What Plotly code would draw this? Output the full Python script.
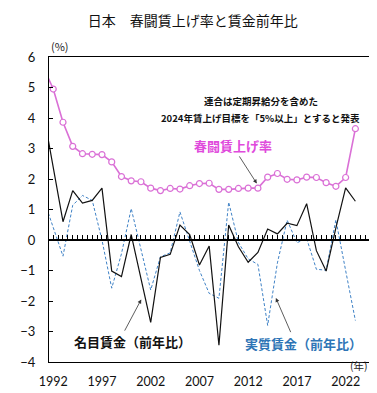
import plotly.graph_objects as go

years = list(range(1991, 2024))
shunto = [5.66, 4.95, 3.86, 3.07, 2.83, 2.81, 2.80, 2.56, 2.08, 1.94, 1.91, 1.70, 1.62, 1.69,
          1.67, 1.78, 1.85, 1.86, 1.66, 1.66, 1.69, 1.70, 1.70, 2.06, 2.18, 1.99, 1.97, 2.06,
          2.05, 1.88, 1.76, 2.05, 3.65]
nominal = [4.16, 2.39, 0.60, 1.62, 1.21, 1.30, 1.70, -1.02, -1.20, 0.18, -1.25, -2.70, -0.57,
           -0.47, 0.49, 0.18, -0.82, -0.20, -3.45, 0.49, -0.22, -0.73, -0.41, 0.36, 0.20, 0.55,
           0.47, 1.19, -0.35, -1.02, 0.40, 1.71, 1.27]
real = [1.35, 0.41, -0.53, 1.14, 1.46, 1.30, 0.00, -1.58, -0.45, 1.03, -0.30, -1.64, -0.55,
        -0.42, 0.92, -0.04, -1.00, -1.75, -1.91, 1.24, -0.08, -0.62, -0.80, -2.80, -0.75, 0.65,
        -0.09, 0.05, -0.96, -0.99, 0.66, -1.00, -2.64]
x_ticks = [1992, 1997, 2002, 2007, 2012, 2017, 2022]
x_range = [1991.565, 2024.5]

PINK = "#DA70D6"
PINK_TXT = "#E04ADC"
BLUE = "#3F82C6"
BLUE_TXT = "#2E75B6"
FONT = "Lato"
CJK = "Noto Sans CJK JP"

fig = go.Figure()
fig.add_trace(go.Scatter(x=years, y=real, mode="lines",
                         line=dict(color=BLUE, width=1, dash="3px,2px"),
                         showlegend=False, hoverinfo="skip"))
fig.add_trace(go.Scatter(x=years, y=nominal, mode="lines",
                         line=dict(color="#111111", width=1.2),
                         showlegend=False, hoverinfo="skip"))
fig.add_trace(go.Scatter(x=years, y=shunto, mode="lines+markers",
                         line=dict(color=PINK, width=1.6),
                         marker=dict(symbol="circle", size=6, color="white",
                                     line=dict(color=PINK, width=1.2)),
                         showlegend=False, hoverinfo="skip"))
fig.add_trace(go.Scatter(x=[2000], y=[None], xaxis="x2", mode="lines",
                         showlegend=False, hoverinfo="skip"))

annotations = [
    dict(text="(%)", xref="paper", yref="paper", x=0.0, y=1.0, xanchor="left",
         yanchor="bottom", yshift=1, showarrow=False, font=dict(family=CJK, size=11, color="#222")),
    dict(text="(年)", xref="paper", yref="paper", x=1.0, y=0.0, xanchor="right",
         yanchor="middle", yshift=-3, showarrow=False, font=dict(family=CJK, size=10.5, color="#222")),
    dict(text="<b>連合は定期昇給分を含めた</b>", xref="x", yref="y", x=2013.3, y=4.57,
         showarrow=False, font=dict(family=CJK, size=9.5, color="#111")),
    dict(text="<b>2024年賃上げ目標を「5%以上」とすると発表</b>", xref="x", yref="y", x=2013.3, y=4.01,
         showarrow=False, font=dict(family=CJK, size=9.5, color="#111")),
    dict(text="<b>春闘賃上げ率</b>", xref="x", yref="y", x=2010.4, y=3.11,
         showarrow=False, font=dict(family=CJK, size=13, color=PINK_TXT)),
    dict(text="<b>名目賃金（前年比）</b>", xref="x", yref="y", x=2000.1, y=-3.34,
         showarrow=False, font=dict(family=CJK, size=13, color="#111")),
    dict(text="<b>実質賃金（前年比）</b>", xref="x", yref="y", x=2017.7, y=-3.38,
         showarrow=False, font=dict(family=CJK, size=13, color=BLUE_TXT)),
    # arrows
    dict(text="", xref="x", yref="y", axref="x", ayref="y", x=2012.89, y=1.85,
         ax=2011.0, ay=2.79, showarrow=True, arrowhead=2, arrowsize=1, arrowwidth=0.8,
         arrowcolor="#333"),
    dict(text="", xref="x", yref="y", axref="x", ayref="y", x=2001.03, y=-1.95,
         ax=1999.25, ay=-3.02, showarrow=True, arrowhead=2, arrowsize=1, arrowwidth=0.8,
         arrowcolor="#333"),
    dict(text="", xref="x", yref="y", axref="x", ayref="y", x=2014.84, y=-1.90,
         ax=2016.43, ay=-3.07, showarrow=True, arrowhead=2, arrowsize=1, arrowwidth=0.8,
         arrowcolor="#333"),
]

fig.update_layout(
    width=377, height=393,
    margin=dict(l=36, r=15, t=49, b=30),
    paper_bgcolor="white", plot_bgcolor="white",
    title=dict(text="日本　春闘賃上げ率と賃金前年比", x=0.49, xanchor="center",
               y=1 - 13 / 393, yanchor="middle",
               font=dict(family=CJK, size=14, color="#111")),
    xaxis=dict(range=x_range, tickvals=x_ticks, ticks="", showline=True, linecolor="black",
               linewidth=1, mirror=True, showgrid=False, zeroline=False,
               tickfont=dict(family=FONT, size=12.5, color="#111"), ticklabelstandoff=8),
    xaxis2=dict(range=x_range, overlaying="x", anchor="free", position=0.4, side="bottom",
                showline=True, linecolor="black", linewidth=1.5, ticks="inside", ticklen=4,
                tickcolor="black", tickwidth=1, tick0=1992, dtick=0.5, showticklabels=False,
                showgrid=False, zeroline=False),
    yaxis=dict(range=[-4, 6], dtick=1, ticks="inside", ticklen=4, tickcolor="black",
               showline=True, linecolor="black", linewidth=1, mirror=True, showgrid=False,
               zeroline=False, tickfont=dict(family=FONT, size=13, color="#111"),
               ticklabelstandoff=10),
    annotations=annotations,
)

fig.write_html("out.html")
